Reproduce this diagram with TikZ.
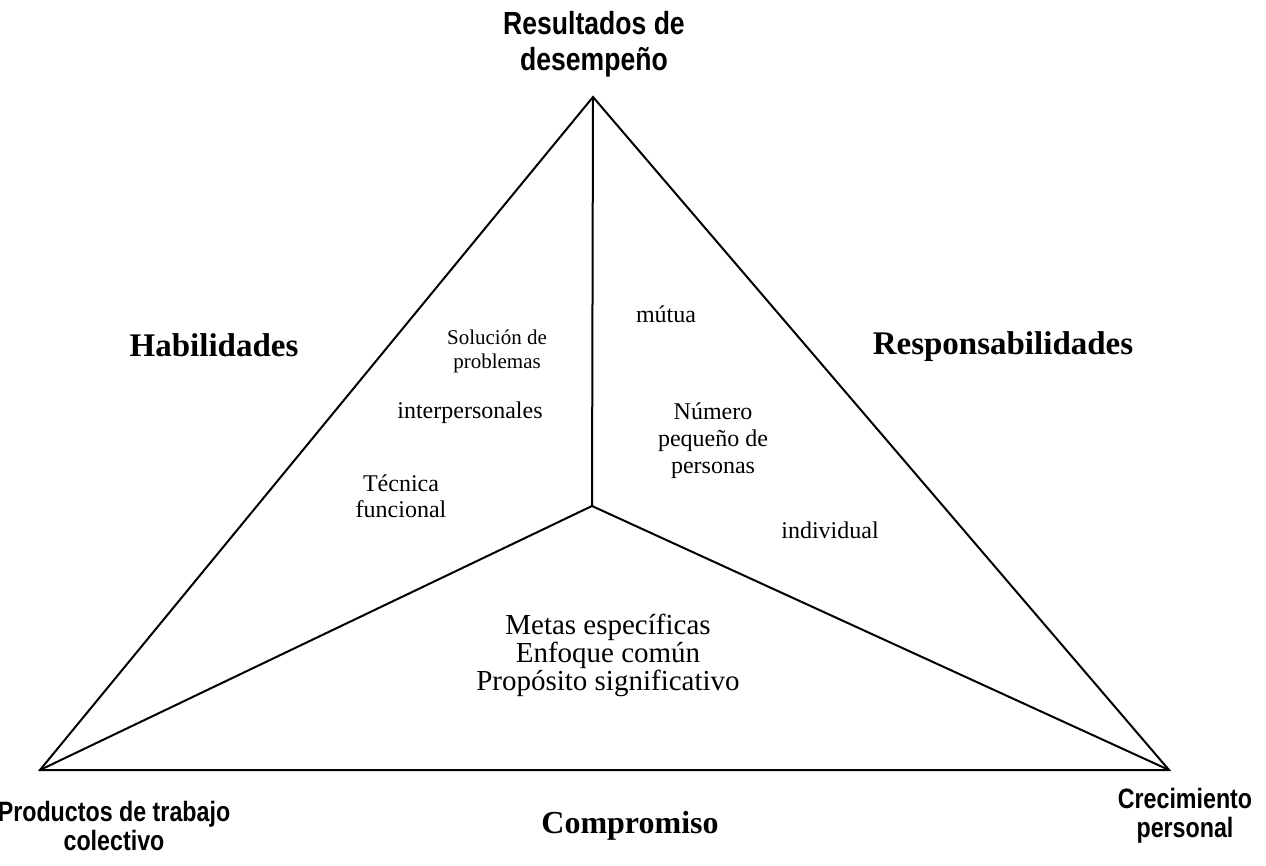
\documentclass[tikz,border=0pt]{standalone}
\usepackage{fontspec}
\setmainfont{Liberation Serif}
\newfontfamily\cornersans[FakeStretch=0.83]{Liberation Sans}

\tikzset{
  edge/.style={line width=2pt, line join=miter},
  cornerlabel/.style={font=\cornersans\bfseries, align=center, inner sep=0pt, anchor=base},
  sidelabel/.style={font=\bfseries\fontsize{33}{36}\selectfont, inner sep=0pt, anchor=base},
  smalllabel/.style={align=center, inner sep=0pt, anchor=base},
}

\begin{document}
\begin{tikzpicture}[x=1pt, y=-1pt]
  \useasboundingbox (0,0) rectangle (1266,866);

  % corners of the triangle and its inner point
  \coordinate (apex)   at (593,97);
  \coordinate (left)   at (40,770);
  \coordinate (right)  at (1169,770);
  \coordinate (middle) at (592,506);

  % outline
  \draw[edge] (apex) -- (left) -- (right) -- cycle;
  % inner spokes
  \draw[edge] (middle) -- (apex);
  \draw[edge] (middle) -- (left);
  \draw[edge] (middle) -- (right);

  % corner labels (base = baseline of the last line)
  \node[cornerlabel, font=\cornersans\bfseries\fontsize{32}{36}\selectfont] (result) at (594,71) {Resultados de\\desempeño};
  \node[cornerlabel, font=\cornersans\bfseries\fontsize{28}{29}\selectfont] (product) at (114,850) {Productos de trabajo\\colectivo};
  \node[cornerlabel, font=\cornersans\bfseries\fontsize{28}{29}\selectfont] (growth) at (1185,837) {Crecimiento\\personal};

  % side labels
  \node[sidelabel] (skills) at (214,357) {Habilidades};
  \node[sidelabel] (duties) at (1003,355) {Responsabilidades};
  \node[sidelabel, font=\bfseries\fontsize{32}{36}\selectfont] (commit) at (630,833) {Compromiso};

  % skills sector
  \node[smalllabel, font=\fontsize{21}{24}\selectfont] (solve) at (497,369) {Solución de\\problemas};
  \node[smalllabel, font=\fontsize{24}{26}\selectfont] (inter) at (470,418) {interpersonales};
  \node[smalllabel, font=\fontsize{24}{26}\selectfont] (tech) at (401,517) {Técnica\\funcional};

  % responsibility sector
  \node[smalllabel, font=\fontsize{24}{27}\selectfont] (mutual) at (666,323) {mútua};
  \node[smalllabel, font=\fontsize{24}{27}\selectfont] (number) at (713,473) {Número\\pequeño de\\personas};
  \node[smalllabel, font=\fontsize{24}{27}\selectfont] (indiv) at (830,538) {individual};

  % commitment sector
  \node[smalllabel, font=\fontsize{29}{26}\selectfont] (goals) at (608,690) {Metas específicas\\Enfoque común\\Propósito significativo};
\end{tikzpicture}
\end{document}
